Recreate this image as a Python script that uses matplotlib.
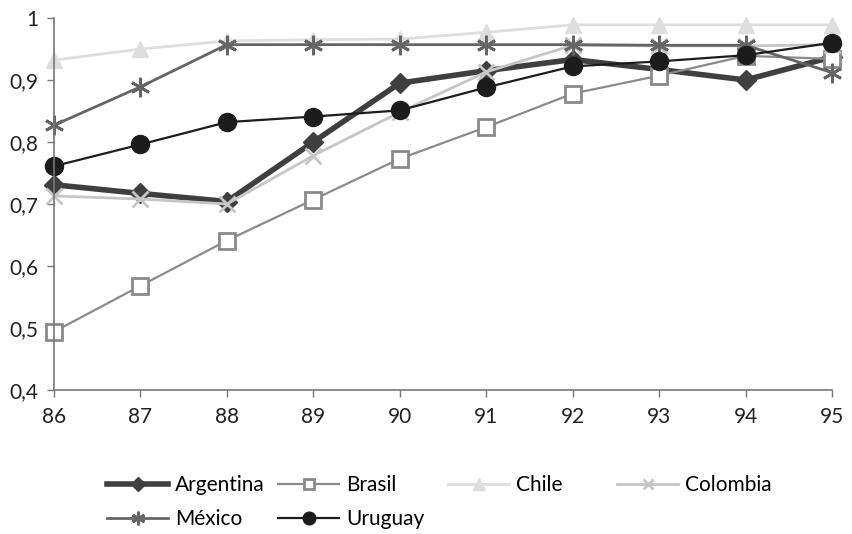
import numpy as np
import matplotlib.pyplot as plt
from matplotlib.ticker import FuncFormatter

plt.rcParams['font.family'] = ['Lato', 'DejaVu Sans']

years = [86, 87, 88, 89, 90, 91, 92, 93, 94, 95]

argentina = [0.731, 0.717, 0.704, 0.800, 0.895, 0.915, 0.933, 0.917, 0.900, 0.937]
brasil = [0.494, 0.568, 0.641, 0.707, 0.773, 0.824, 0.878, 0.907, 0.939, 0.934]
chile = [0.932, 0.950, 0.963, 0.965, 0.966, 0.977, 0.989, 0.989, 0.989, 0.989]
colombia = [0.713, 0.708, 0.700, 0.778, 0.848, 0.913, 0.956, 0.955, 0.955, 0.957]
mexico = [0.827, 0.889, 0.957, 0.957, 0.957, 0.957, 0.957, 0.956, 0.956, 0.912]
uruguay = [0.761, 0.796, 0.832, 0.841, 0.851, 0.888, 0.922, 0.930, 0.940, 0.960]

fig = plt.figure(figsize=(8.52, 5.34), dpi=100)
ax = fig.add_axes([0.0634, 0.2697, 0.9131, 0.6966])

styles = [
	(argentina, "Argentina", dict(color="#3f3f3f", lw=4.0, marker="D", ms=10, mfc="#3f3f3f", mec="#3f3f3f")),
	(brasil, "Brasil", dict(color="#8a8a8a", lw=1.6, marker="s", ms=11, mfc="white", mec="#8a8a8a", mew=2)),
	(chile, "Chile", dict(color="#dedede", lw=2.0, marker="^", ms=12, mfc="#dedede", mec="#dedede")),
	(colombia, "Colombia", dict(color="#c6c6c6", lw=2.0, marker="x", ms=11, mec="#c6c6c6", mew=2)),
	(mexico, "México", dict(color="#656565", lw=2.0, marker=(6, 2, 0), ms=14, mec="#656565", mew=2)),
	(uruguay, "Uruguay", dict(color="#1c1c1c", lw=1.6, marker="o", ms=13, mfc="#1c1c1c", mec="#1c1c1c")),
]

handles = {}
for vals, name, kw in styles:
	line, = ax.plot(years, vals, label=name, clip_on=False, **kw)
	handles[name] = line

ax.set_xlim(86, 95)
ax.set_ylim(0.4, 1.0)
ax.set_xticks(years)
ax.set_yticks(np.arange(0.4, 1.01, 0.1))
ax.yaxis.set_major_formatter(FuncFormatter(lambda v, p: ("%g" % round(v, 1)).replace(".", ",")))

for side in ["top", "right"]:
	ax.spines[side].set_visible(False)
for side in ["left", "bottom"]:
	ax.spines[side].set_color("#777777")
	ax.spines[side].set_linewidth(1.2)
ax.tick_params(axis="both", colors="#777777", labelcolor="#222222", labelsize=15, length=5, width=1)
ax.tick_params(axis="x", pad=7)
ax.tick_params(axis="y", pad=6)

# legend laid out as equal-width columns, filled row by row
columns = [["Argentina", "México"], ["Brasil", "Uruguay"], ["Chile"], ["Colombia"]]
col_x = [107, 278, 448, 617]
for names, x in zip(columns, col_x):
	fig.legend([handles[n] for n in names], names, loc="upper left",
		bbox_to_anchor=(x / 852, 1 - 475 / 534), frameon=False, fontsize=15,
		handlelength=2.95, handletextpad=0.33, labelspacing=0.68,
		borderpad=0, borderaxespad=0, markerscale=0.7)

fig.savefig("out.png", dpi=100)
